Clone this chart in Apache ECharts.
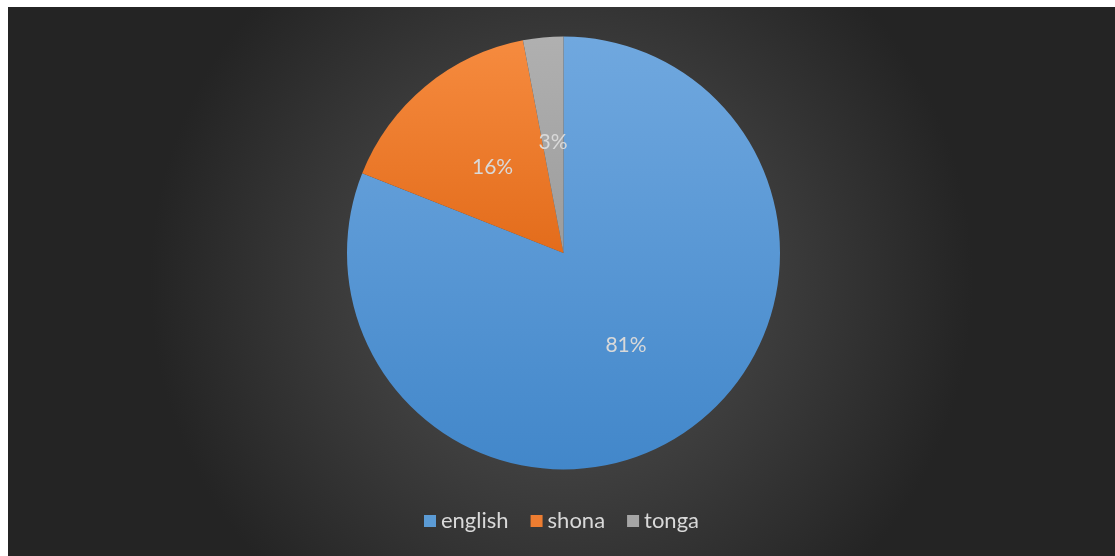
<!DOCTYPE html>
<html>
<head>
<meta charset="utf-8">
<script src="https://cdn.jsdelivr.net/npm/echarts@6/dist/echarts.min.js"></script>
<style>
  html, body { margin: 0; padding: 0; background: #ffffff; }
  #chart { position: absolute; left: 8px; top: 7px; width: 1107px; height: 549px; }
</style>
</head>
<body>
<div id="chart"></div>
<script>
// Language shares (percent)
const categories = ['english', 'shona', 'tonga'];
const shares = [81, 16, 3];

// Slice fills: lighter at the top, deeper at the bottom
const sliceColors = [
  ['#70a8df', '#4287ca'],
  ['#f68b3f', '#e36c1b'],
  ['#b0b0b0', '#9c9c9c']
];
const legendColors = ['#5b9bd5', '#ed7d31', '#a5a5a5'];

function vgrad(pair) {
  return new echarts.graphic.LinearGradient(0, 0, 0, 1, [
    { offset: 0, color: pair[0] },
    { offset: 1, color: pair[1] }
  ]);
}

const chart = echarts.init(document.getElementById('chart'));
const font = 'Lato, "Open Sans", sans-serif';

chart.setOption({
  animation: false,
  backgroundColor: new echarts.graphic.RadialGradient(0.5, 0.5, 0.75, [
    { offset: 0, color: '#565656' },
    { offset: 1, color: '#242424' }
  ]),
  legend: {
    bottom: 19,
    left: 'center',
    itemWidth: 12,
    itemHeight: 12,
    itemGap: 22,
    icon: 'rect',
    textStyle: { color: '#d9d9d9', fontSize: 22, fontFamily: font, padding: [0, 0, 0, 0] },
    data: categories.map((c, i) => ({ name: c, itemStyle: { color: legendColors[i] } }))
  },
  series: [{
    type: 'pie',
    center: [555.5, 246],
    radius: [0, 216.5],
    startAngle: 90,
    clockwise: true,
    label: {
      position: 'inside',
      formatter: '{d}%',
      color: '#d9d9d9',
      fontSize: 21,
      fontFamily: font
    },
    labelLine: { show: false },
    emphasis: { disabled: true },
    itemStyle: { borderWidth: 0 },
    data: categories.map((c, i) => ({
      name: c,
      value: shares[i],
      itemStyle: { color: vgrad(sliceColors[i]) }
    }))
  }]
});
</script>
</body>
</html>
